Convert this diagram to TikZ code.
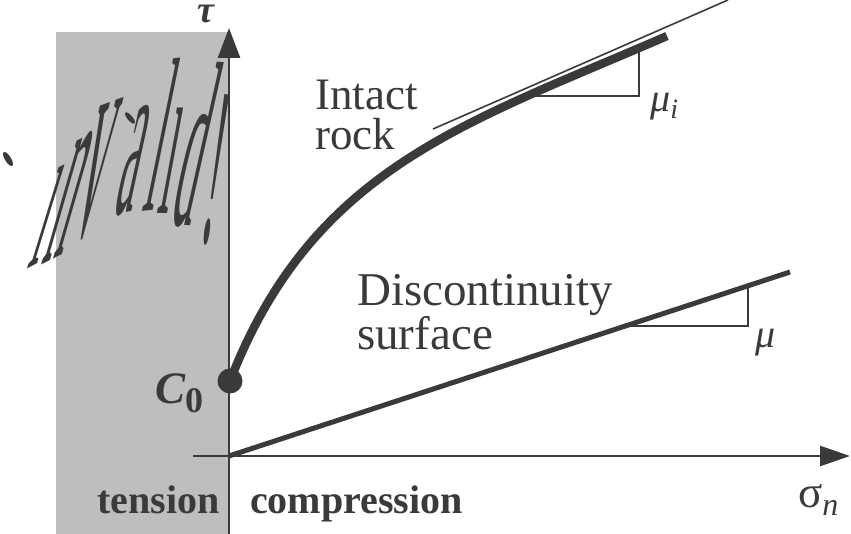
\documentclass[tikz,border=0pt]{standalone}
\usepackage{fontspec}
\setmainfont{Liberation Serif}
\usetikzlibrary{arrows.meta}
\definecolor{ink}{HTML}{3A3A3C}
\definecolor{bandgray}{HTML}{BDBEC0}
\newcommand{\wordletter}[7]{%
  \begin{scope}[shift={(#2)}]
    \node[wordglyph, cm={#4,#5,#6,#7,(0,0)}] (#1) at (0,0) {#3};
  \end{scope}}
\begin{document}
\begin{tikzpicture}[x=1pt,y=-1pt,
  axis/.style={draw=ink, line width=2.6pt},
  thin/.style={draw=ink, line width=1.6pt},
  lbl/.style={inner sep=0pt, anchor=base west, text=ink, font=\fontsize{45}{45}\selectfont},
  blbl/.style={inner sep=0pt, anchor=base west, text=ink, font=\fontsize{40}{40}\selectfont\bfseries},
  wordglyph/.style={inner sep=0pt, anchor=base west, text=ink, font=\fontsize{50}{50}\selectfont}]
\useasboundingbox (0,0) rectangle (851,534);
\fill[bandgray] (56,32) rectangle (229,534);
% invalid!
\wordletter{g1}{26,270}{\i}{0.85}{0.45}{1.35}{4.4}
\wordletter{g2}{40,266}{n}{0.9}{0.45}{1.55}{5.4}
\wordletter{g3}{70,242}{v}{0.95}{0.35}{1.3}{5.9}
\wordletter{g4}{112,216}{a}{0.9}{0.2}{1.0}{4.6}
\wordletter{g5}{141,212}{l}{0.9}{0.1}{0.9}{4.4}
\wordletter{g6}{156,214}{\i}{0.85}{0.0}{0.85}{4.6}
\wordletter{g7}{168,224}{d}{0.9}{-0.05}{1.05}{4.7}
\wordletter{g8}{198,240}{!}{0.9}{-0.2}{0.65}{4.5}
\fill[ink, rotate around={-58:(8,159)}] (8,159) ellipse (8pt and 3pt);
\fill[ink, rotate around={-50:(130,118)}] (130,118) ellipse (7pt and 2.6pt);
% axes
\coordinate (O) at (229,456);
\coordinate (ybot) at (229,534);
\coordinate (ytop) at (229,28);
\coordinate (xleft) at (193,456);
\coordinate (xright) at (850,456);
\draw[axis, -{Triangle[length=30pt,width=22pt]}] (ybot) -- (ytop);
\draw[axis, -{Triangle[length=30pt,width=20pt]}] (xleft) -- (xright);
% discontinuity line
\coordinate (dend) at (790,272);
\draw[draw=ink, line width=5pt] (O) -- (dend);
\coordinate (mu1) at (626,326);
\coordinate (mu2) at (748,326);
\coordinate (mu3) at (748,286);
\draw[thin] (mu1) -- (mu2) -- (mu3);
% intact rock
\coordinate (C0) at (230,381);
\coordinate (iend) at (667,36);
\draw[draw=ink, line width=8.5pt] (C0) .. controls (313,167) and (467,123) .. (iend);
\fill[ink] (C0) circle (12.5pt);
\coordinate (t1) at (433,129);
\coordinate (t2) at (728,0);
\draw[draw=ink, line width=1.6pt] (t1) -- (t2);
\coordinate (mi1) at (528,96);
\coordinate (mi2) at (639,96);
\coordinate (mi3) at (639,48);
\draw[thin] (mi1) -- (mi2) -- (mi3);
% labels
\node[inner sep=0pt, anchor=base, text=ink, font=\fontsize{38}{38}\selectfont\bfseries\itshape] (tau) at (206,23) {τ};
\node[inner sep=0pt, anchor=base west, text=ink] (C0lbl) at (155,403) {\fontsize{45}{45}\selectfont\bfseries\itshape C\fontsize{36}{36}\selectfont\upshape\raisebox{-9pt}{0}};
\node[blbl] (tens) at (97,513) {tension};
\node[blbl] (comp) at (250,513) {compression};
\node[inner sep=0pt, anchor=north west, align=left, text=ink, font=\fontsize{45}{40}\selectfont] (intact) at (315,80.2) {Intact\\rock};
\node[inner sep=0pt, anchor=north west, align=left, text=ink, font=\fontsize{47}{42}\selectfont] (disc) at (357,274) {Discontinuity\\surface};
\node[lbl] (mui) at (650,112) {\fontsize{40}{40}\selectfont\itshape μ\fontsize{28}{28}\selectfont\raisebox{-7pt}{i}};
\node[lbl] (mu) at (755,348) {\fontsize{40}{40}\selectfont\itshape μ};
\node[lbl] (sig) at (798,507) {\fontsize{45}{45}\selectfont σ\fontsize{32}{32}\selectfont\itshape\raisebox{-8pt}{n}};
\end{tikzpicture}
\end{document}
